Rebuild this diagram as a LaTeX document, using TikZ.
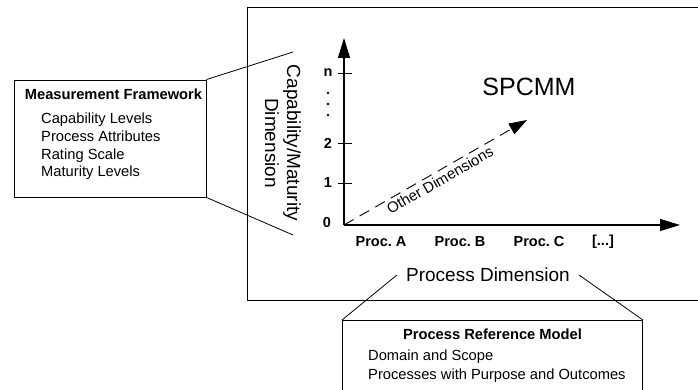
\documentclass[tikz,border=0pt]{standalone}
\usepackage{fontspec}
\setmainfont{Liberation Sans}
\usetikzlibrary{arrows.meta,positioning}

\begin{document}
\begin{tikzpicture}[
        x=1pt, y=-1pt,
        font=\fontsize{14.7}{17.7}\selectfont,
        infobox/.style={rectangle, draw=black, line width=0.9pt, inner sep=0pt},
        boxtitle/.style={font=\fontsize{14.7}{17.7}\selectfont\bfseries},
        itemlist/.style={align=left, anchor=west, inner sep=0pt},
        axislabel/.style={font=\fontsize{19}{22}\selectfont, align=center},
        ticklabel/.style={font=\fontsize{14.5}{17}\selectfont\bfseries},
        axis/.style={-{Triangle[length=20pt, width=12pt]}, line width=1.3pt},
        otherarrow/.style={-{Triangle[length=18pt, width=12pt]}, line width=0.9pt, dash pattern=on 11pt off 7pt},
        zoomline/.style={line width=0.8pt}
    ]
    \clip (0,0) rectangle (698,390);

    \draw[line width=1pt] (247,8) rectangle (710,300);

    % measurement framework
    \node[infobox, minimum width=192pt, minimum height=117pt] (mfbox) at (110,138.5) {};
    \node[boxtitle] (mftitle) at (113.5,94) {Measurement Framework};
    \node[itemlist] (mfitems) at (41,146.5) {Capability Levels\\Process Attributes\\Rating Scale\\Maturity Levels};

    \node[axislabel, rotate=-90] (capdim) at (283,143) {Capability/Maturity\\Dimension};
    \coordinate (captop) at (293,52);
    \coordinate (capbot) at (293,235);
    \draw[zoomline] (mfbox.north east) -- (captop);
    \draw[zoomline] (mfbox.south east) -- (capbot);

    % axes
    \coordinate (origin) at (344,225);
    \coordinate (ytip) at (344,38);
    \coordinate (xtip) at (680,225);
    \coordinate (otip) at (527,120);
    \draw[axis] (origin) -- (ytip);
    \draw[axis] (origin) -- (xtip);
    \draw[otherarrow] (origin) -- (otip) node[midway, below, sloped, inner sep=3pt, font=\fontsize{15}{17}\selectfont] (otherdim) {Other Dimensions};

    \foreach \ty/\tl in {73/n, 143/2, 183/1} {
        \draw[line width=0.9pt] (338,\ty) -- (352,\ty);
        \node[ticklabel] (tick\tl) at (328,\ty) {\tl};
    }
    \node[ticklabel] (tick0) at (327,223) {0};
    \foreach \dy in {93,104,115} \fill (328,\dy) circle (1.3pt);

    \node[font=\fontsize{25}{30}\selectfont] (spcmm) at (529,87) {SPCMM};

    \foreach \px/\pn/\pl in {381/proca/Proc.\ A, 460/procb/Proc.\ B, 539/procc/Proc.\ C, 603/procx/{[...]}}
        \node[ticklabel] (\pn) at (\px,242) {\pl};

    % process reference model
    \node[axislabel, inner xsep=9pt] (procdim) at (488,275) {Process Dimension};
    \node[infobox, minimum width=300pt, minimum height=100pt, anchor=north west] (prmbox) at (342,320) {};
    \node[boxtitle] (prmtitle) at (492.5,334) {Process Reference Model};
    \node[itemlist, font=\fontsize{14.7}{18.7}\selectfont] (prmitems) at (368,366.5) {Domain and Scope\\Processes with Purpose and Outcomes};
    \draw[zoomline] (procdim.west) -- (prmbox.north west);
    \draw[zoomline] (procdim.east) -- (prmbox.north east);
\end{tikzpicture}
\end{document}
